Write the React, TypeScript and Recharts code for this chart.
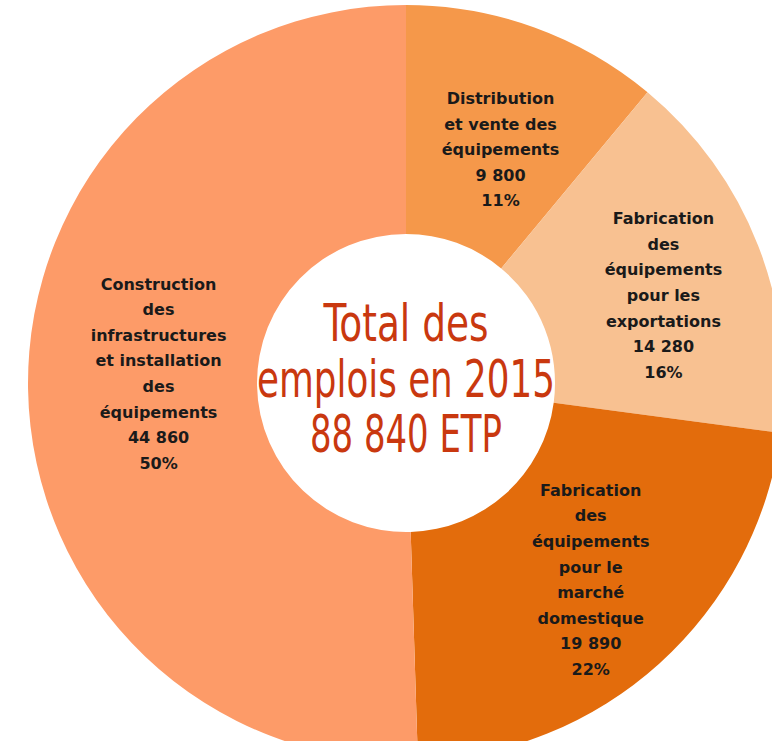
import { PieChart, Pie, Cell } from 'recharts'

const CATEGORIES = [
  ['Distribution', 'et vente des', 'équipements'],
  ['Fabrication', 'des', 'équipements', 'pour les', 'exportations'],
  ['Fabrication', 'des', 'équipements', 'pour le', 'marché', 'domestique'],
  ['Construction', 'des', 'infrastructures', 'et installation', 'des', 'équipements'],
]
const VALUES = [9800, 14280, 19890, 44860]
const VALUE_LABELS = ['9 800', '14 280', '19 890', '44 860']
const PERCENT_LABELS = ['11%', '16%', '22%', '50%']
const COLORS = ['#F5984A', '#F8C191', '#E36C0C', '#FD9B68']
const CENTER_LINES = ['Total des', 'emplois en 2015', '88 840 ETP']

const data = VALUES.map((value, i) => ({ name: CATEGORIES[i].join(' '), value }))

const RAD = Math.PI / 180
const LINE_HEIGHT = 25.6
// small manual nudges so the label blocks sit where the original put them
const LABEL_NUDGE = [
  [5, 14],
  [12, 8],
  [8, 1],
  [16, -14],
]

function renderLabel(props: any) {
  const { cx, cy, midAngle, innerRadius, outerRadius, index } = props
  const r = (innerRadius + outerRadius) / 2
  const x = cx + r * Math.cos(-midAngle * RAD) + LABEL_NUDGE[index][0]
  const y = cy + r * Math.sin(-midAngle * RAD) + LABEL_NUDGE[index][1]
  const lines = [...CATEGORIES[index], VALUE_LABELS[index], PERCENT_LABELS[index]]
  const top = y - ((lines.length - 1) * LINE_HEIGHT) / 2
  return (
    <text
      x={x}
      y={top}
      textAnchor="middle"
      dominantBaseline="central"
      fill="#1a1a1a"
      fontFamily="'DejaVu Sans', sans-serif"
      fontWeight="bold"
      fontSize={16}
    >
      {lines.map((line, i) => (
        <tspan key={i} x={x} y={top + i * LINE_HEIGHT}>
          {line}
        </tspan>
      ))}
    </text>
  )
}

const CX = 406
const CY = 383
const CENTER_WIDTHS = [165, 298, 192]

export default function App() {
  return (
    <div style={{ position: 'absolute', left: 0, top: 0, width: 772, height: 741, background: '#fff' }}>
      <PieChart width={772} height={741} margin={{ top: 0, right: 0, bottom: 0, left: 0 }}>
        <Pie
          data={data}
          dataKey="value"
          nameKey="name"
          cx={CX}
          cy={CY}
          innerRadius={149}
          outerRadius={378}
          startAngle={90}
          endAngle={-270}
          stroke="none"
          label={renderLabel}
          labelLine={false}
          isAnimationActive={false}
        >
          {data.map((_, i) => (
            <Cell key={`cell-${i}`} fill={COLORS[i]} />
          ))}
        </Pie>
        <text
          fill="#C9380F"
          fontFamily="'Liberation Sans Narrow', 'DejaVu Sans Condensed', sans-serif"
          fontSize={52}
          textAnchor="middle"
        >
          {CENTER_LINES.map((line, i) => (
            <tspan
              key={i}
              x={CX}
              y={341 + i * 55.5}
              textLength={CENTER_WIDTHS[i]}
              lengthAdjust="spacingAndGlyphs"
            >
              {line}
            </tspan>
          ))}
        </text>
      </PieChart>
    </div>
  )
}
